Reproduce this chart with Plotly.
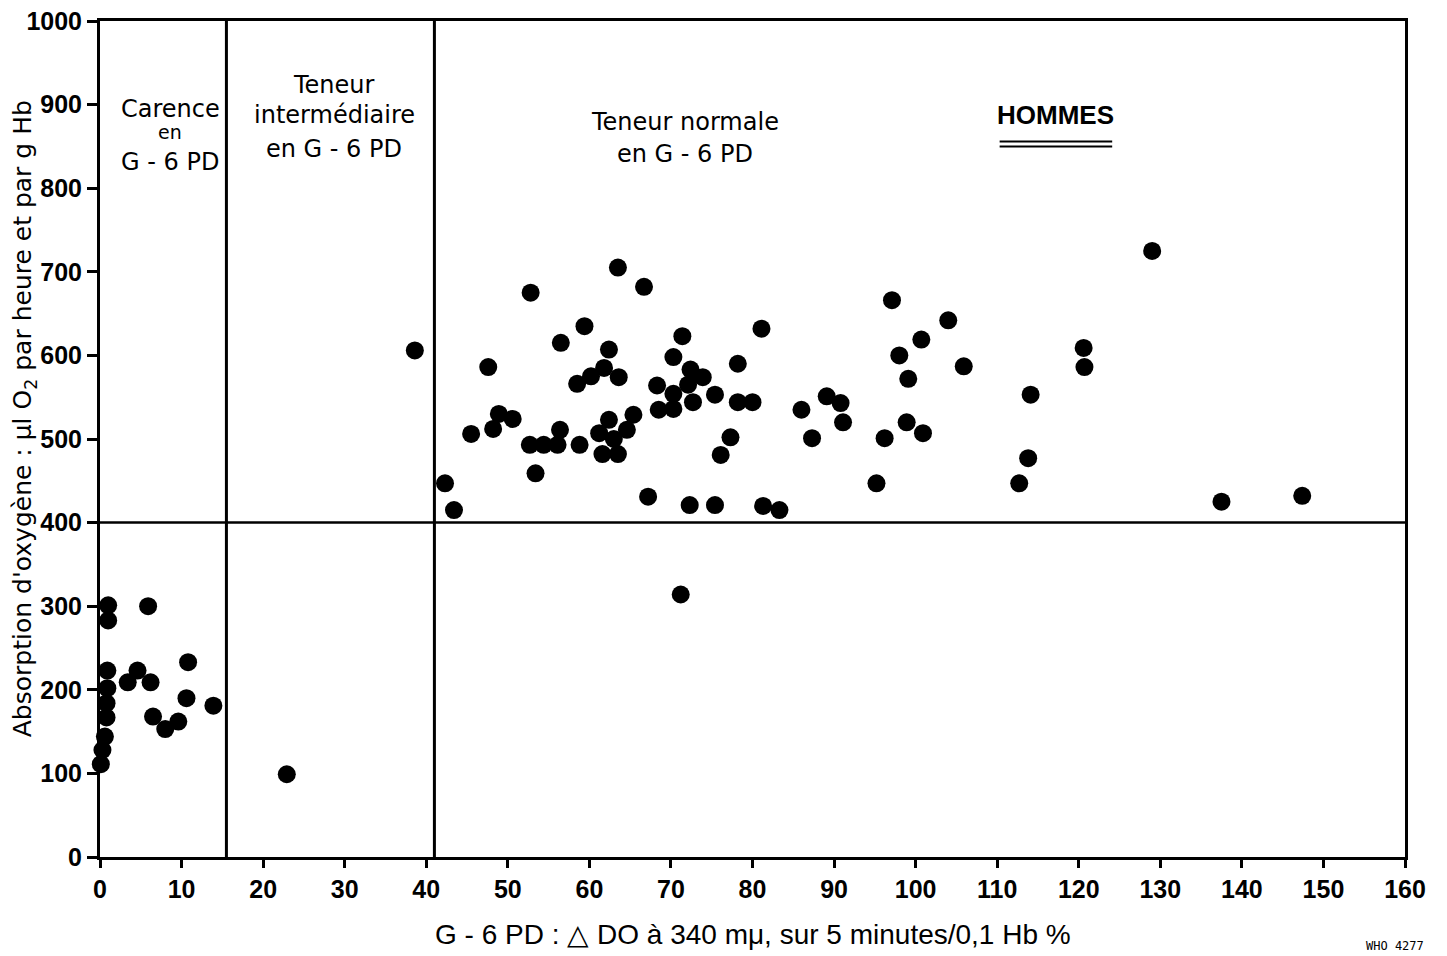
import plotly.graph_objects as go

# ---- data ----
g6pd = [1.0, 1.0, 5.9, 0.9, 0.9, 0.8, 0.8, 0.6, 0.3, 0.1, 3.4, 4.6, 6.2, 6.5, 8.0, 9.6, 10.8, 10.6, 13.9, 22.9, 38.6,
        63.5, 66.7, 52.8, 59.4, 56.5, 81.1, 71.4, 62.4, 70.3, 47.6, 78.2, 61.8, 72.4, 60.2, 63.6, 73.9, 58.5, 68.3,
        72.1, 70.3, 75.4, 68.5, 70.3, 72.7, 78.2, 80.0, 86.0, 87.3, 77.3, 76.1, 48.9, 50.6, 48.2, 45.5, 56.4, 65.4,
        62.4, 64.6, 61.2, 63.0, 61.6, 63.5, 52.7, 54.4, 56.1, 58.8, 53.4, 42.3, 43.4, 67.2, 72.3, 75.4, 81.3, 83.3,
        71.2,
        97.1, 104.0, 100.7, 98.0, 105.9, 99.1, 89.1, 90.8, 91.1, 98.9, 100.9, 96.2, 95.2, 129.0, 120.6, 120.7,
        114.1, 113.8, 112.7, 137.5, 147.4]
oxygen = [301, 283, 300, 223, 202, 184, 167, 144, 128, 111, 209, 223, 209, 168, 153, 162, 233, 190, 181, 99, 606,
          705, 682, 675, 635, 615, 632, 623, 607, 598, 586, 590, 585, 583, 575, 574, 574, 566, 564,
          565, 554, 553, 535, 536, 544, 544, 544, 535, 501, 502, 481, 530, 524, 512, 506, 511, 529,
          523, 511, 507, 500, 482, 482, 493, 493, 493, 493, 459, 447, 415, 431, 421, 421, 420, 415,
          314,
          666, 642, 619, 600, 587, 572, 551, 543, 520, 520, 507, 501, 447, 725, 609, 586,
          553, 477, 447, 425, 432]

x_ticks = [0, 10, 20, 30, 40, 50, 60, 70, 80, 90, 100, 110, 120, 130, 140, 150, 160]
y_ticks = [0, 100, 200, 300, 400, 500, 600, 700, 800, 900, 1000]

# region boundaries
deficient_limit = 15.5
intermediate_limit = 41
oxygen_limit = 400

INK = "#000000"
TXT = "DejaVu Sans"
NUM = "Liberation Sans"

fig = go.Figure()
fig.add_trace(go.Scatter(
    x=g6pd, y=oxygen, mode="markers",
    marker=dict(size=18, color=INK, line=dict(width=0)),
    cliponaxis=False, showlegend=False, hoverinfo="x+y"))

# boundary lines
fig.add_shape(type="line", x0=deficient_limit, x1=deficient_limit, y0=0, y1=1000, line=dict(color=INK, width=3))
fig.add_shape(type="line", x0=intermediate_limit, x1=intermediate_limit, y0=0, y1=1000, line=dict(color=INK, width=3))
fig.add_shape(type="line", x0=0, x1=160, y0=oxygen_limit, y1=oxygen_limit, line=dict(color=INK, width=2.5))

# region labels
labels = [
    ("Carence", 8.6, 895, 24),
    ("en", 8.6, 867, 19),
    ("G - 6 PD", 8.6, 831, 24),
    ("Teneur", 28.7, 923, 24),
    ("intermédiaire", 28.7, 888, 24),
    ("en G - 6 PD", 28.7, 847, 24),
    ("Teneur normale", 71.7, 879, 24),
    ("en G - 6 PD", 71.7, 841, 24),
]
for txt, xx, yy, fs in labels:
    fig.add_annotation(x=xx, y=yy, xref="x", yref="y", text=txt, showarrow=False,
                       font=dict(family=TXT, size=fs, color=INK), xanchor="center", yanchor="middle")

fig.add_annotation(x=117.2, y=888, xref="x", yref="y", text="HOMMES", showarrow=False,
                   font=dict(family=NUM, size=26, color=INK, weight="bold"),
                   xanchor="center", yanchor="middle")
for uy in (856, 850):
    fig.add_shape(type="line", x0=110.3, x1=124.1, y0=uy, y1=uy, line=dict(color=INK, width=2))

# axis titles
fig.add_annotation(x=0.5, y=-0.093, xref="paper", yref="paper", xanchor="center", yanchor="middle",
                   text="G - 6 PD : \u25B3 DO à 340 m\u03BC, sur 5 minutes/0,1 Hb %", showarrow=False,
                   font=dict(family=NUM, size=28, color=INK))
fig.add_annotation(x=-0.058, y=0.524, xref="paper", yref="paper", xanchor="center", yanchor="middle",
                   text="Absorption d'oxygène : \u03BCl O<sub>2</sub> par heure et par g Hb", showarrow=False,
                   textangle=-90, font=dict(family=TXT, size=25, color=INK))

fig.add_annotation(x=0.992, y=-0.106, xref="paper", yref="paper", text="WHO 4277", showarrow=False,
                   font=dict(family="DejaVu Sans Mono", size=12, color=INK), xanchor="center", yanchor="middle")

tickfont = dict(family=NUM, size=25, color=INK, weight="bold")

fig.update_xaxes(range=[0, 160], tickvals=x_ticks, ticktext=[str(v) for v in x_ticks],
                 showgrid=False, zeroline=False, showline=True, linecolor=INK, linewidth=3, mirror=True,
                 ticks="outside", ticklen=8, tickwidth=3, tickcolor=INK, tickfont=tickfont,
                 automargin=False, ticklabeloverflow="allow")
fig.update_yaxes(range=[0, 1000], tickvals=y_ticks, ticktext=[str(v) for v in y_ticks],
                 showgrid=False, zeroline=False, showline=True, linecolor=INK, linewidth=3, mirror=True,
                 ticks="outside", ticklen=10, tickwidth=3, tickcolor=INK, tickfont=tickfont,
                 automargin=False, ticklabeloverflow="allow")

fig.update_layout(width=1437, height=946, margin=dict(l=92, r=40, t=13, b=97),
                  plot_bgcolor="white", paper_bgcolor="white")

fig.write_html("out.html")
